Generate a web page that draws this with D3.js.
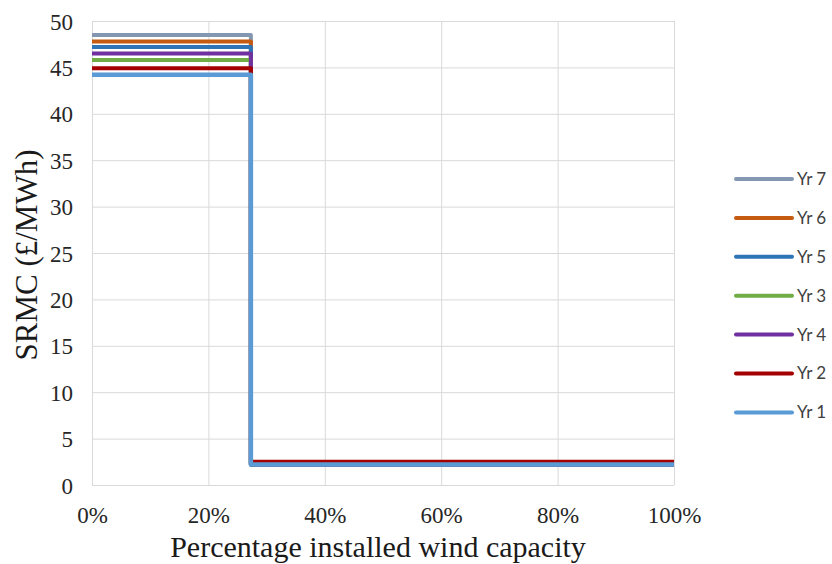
<!DOCTYPE html>
<html>
<head>
<meta charset="utf-8">
<script src="https://cdn.jsdelivr.net/npm/d3@7"></script>
<style>
  body { margin: 0; background: #fff; }
  svg { display: block; }
</style>
</head>
<body>
<svg id="chart" width="832" height="564"></svg>
<script>
// Series, in drawing order (last drawn ends up on top)
const seriesNames = ["Yr 7", "Yr 6", "Yr 5", "Yr 3", "Yr 4", "Yr 2", "Yr 1"];
const seriesColors = ["#8497b0", "#c55a11", "#2e75b6", "#70ad47", "#7030a0", "#a50000", "#5b9bd5"];
// SRMC before and after the step (£/MWh)
const highValues = [48.5, 47.8, 47.2, 45.8, 46.5, 44.9, 44.2];
const lowValues  = [2.2, 2.2, 2.2, 2.2, 2.2, 2.5, 2.2];
// Share of installed wind capacity where the step occurs
const stepShare = 0.273;
const xTicks = [0, 0.2, 0.4, 0.6, 0.8, 1.0];
const yTicks = [0, 5, 10, 15, 20, 25, 30, 35, 40, 45, 50];

const svg = d3.select("#chart");
const plot = { left: 92, right: 674, top: 21, bottom: 485 };
const serif = "'Liberation Serif', 'Times New Roman', serif";

const x = d3.scaleLinear().domain([0, 1]).range([plot.left, plot.right]);
const y = d3.scaleLinear().domain([0, 50]).range([plot.bottom, plot.top]);

// Gridlines
const grid = svg.append("g");
grid.selectAll("line.h").data(yTicks).join("line")
  .attr("x1", plot.left).attr("x2", plot.right)
  .attr("y1", d => y(d) + 0.5).attr("y2", d => y(d) + 0.5)
  .attr("stroke", "#d9d9d9").attr("stroke-width", 1);
grid.selectAll("line.v").data(xTicks).join("line")
  .attr("y1", plot.top).attr("y2", plot.bottom)
  .attr("x1", d => x(d) + 0.5).attr("x2", d => x(d) + 0.5)
  .attr("stroke", "#d9d9d9").attr("stroke-width", 1);

// Axes (labels only; lines come from the grid)
const yAxis = svg.append("g")
  .attr("transform", `translate(${plot.left},0)`)
  .call(d3.axisLeft(y).tickValues(yTicks).tickSize(0).tickPadding(19));
const xAxis = svg.append("g")
  .attr("transform", `translate(0,${plot.bottom})`)
  .call(d3.axisBottom(x).tickValues(xTicks).tickSize(0).tickPadding(22)
    .tickFormat(d3.format(".0%")));
[yAxis, xAxis].forEach(a => {
  a.select(".domain").remove();
  a.selectAll("text")
    .attr("font-family", serif)
    .attr("font-size", 23).attr("fill", "#262626");
});
yAxis.selectAll("text").attr("dy", "0.35em");

// Step lines
const line = d3.line().x(d => x(d[0])).y(d => y(d[1]));
seriesNames.forEach((name, i) => {
  const pts = [[0, highValues[i]], [stepShare, highValues[i]], [stepShare, lowValues[i]], [1, lowValues[i]]];
  svg.append("path")
    .datum(pts)
    .attr("d", line)
    .attr("fill", "none")
    .attr("stroke", seriesColors[i])
    .attr("stroke-width", i === seriesNames.length - 1 ? 4.5 : 4)
    .attr("stroke-linejoin", "round");
});

// Axis titles
svg.append("text")
  .attr("x", 378).attr("y", 557)
  .attr("text-anchor", "middle")
  .attr("font-family", serif)
  .attr("font-size", 30).attr("fill", "#1a1a1a")
  .text("Percentage installed wind capacity");
svg.append("text")
  .attr("transform", `translate(37,255) rotate(-90)`)
  .attr("text-anchor", "middle")
  .attr("font-family", serif)
  .attr("font-size", 31).attr("fill", "#1a1a1a")
  .text("SRMC (£/MWh)");

// Legend
const legend = svg.append("g");
seriesNames.forEach((name, i) => {
  const ly = 179 + i * 38.9;
  legend.append("line")
    .attr("x1", 736).attr("x2", 792).attr("y1", ly).attr("y2", ly)
    .attr("stroke", seriesColors[i]).attr("stroke-width", 4)
    .attr("stroke-linecap", "round");
  legend.append("text")
    .attr("x", 797).attr("y", ly).attr("dy", "0.35em")
    .attr("font-family", "Lato, 'Open Sans', sans-serif")
    .attr("font-size", 17).attr("fill", "#404040")
    .text(name);
});
</script>
</body>
</html>
